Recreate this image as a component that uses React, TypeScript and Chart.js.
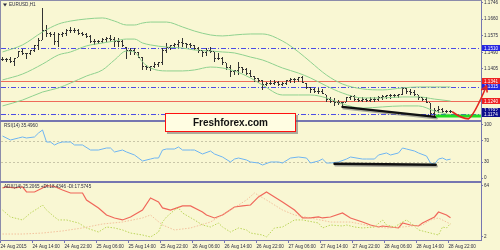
import React, { useEffect, useRef } from 'react';
import { Chart, registerables } from 'chart.js';

Chart.register(...registerables);

const BG = '#F9F7D3';
const AXIS = '#7676B0';
const TEXT = '#2B2B40';
const FONT = "'Liberation Sans', Arial, sans-serif";
const FS = 4.6;

// ---- H1 OHLC bars (EURUSD) ----
const highs = [
  1.1466, 1.1461, 1.1466, 1.1461, 1.1497, 1.1507, 1.1487, 1.1502, 1.1528, 1.1563,
  1.1717, 1.1630, 1.1594, 1.1594, 1.1589, 1.1594, 1.1610, 1.1620, 1.1615, 1.1610,
  1.1594, 1.1589, 1.1579, 1.1558, 1.1553, 1.1563, 1.1569, 1.1579, 1.1569, 1.1563,
  1.1553, 1.1517, 1.1512, 1.1512, 1.1492, 1.1466, 1.1425, 1.1420, 1.1441, 1.1441,
  1.1512, 1.1538, 1.1528, 1.1538, 1.1553, 1.1563, 1.1538, 1.1538, 1.1528, 1.1517,
  1.1502, 1.1512, 1.1517, 1.1492, 1.1487, 1.1466, 1.1436, 1.1425, 1.1400, 1.1441,
  1.1415, 1.1410, 1.1400, 1.1369, 1.1359, 1.1349, 1.1338, 1.1349, 1.1349, 1.1344,
  1.1338, 1.1349, 1.1359, 1.1359, 1.1364, 1.1369, 1.1333, 1.1313, 1.1308, 1.1308,
  1.1303, 1.1272, 1.1262, 1.1257, 1.1246, 1.1236, 1.1262, 1.1272, 1.1272, 1.1262,
  1.1262, 1.1257, 1.1262, 1.1262, 1.1267, 1.1272, 1.1272, 1.1277, 1.1277, 1.1277,
  1.1313, 1.1308, 1.1303, 1.1298, 1.1272, 1.1262, 1.1262, 1.1231, 1.1205, 1.1216,
  1.1205, 1.1195, 1.1195,
];
const lows = [
  1.1446, 1.1441, 1.1436, 1.1420, 1.1466, 1.1477, 1.1456, 1.1477, 1.1492, 1.1502,
  1.1553, 1.1569, 1.1569, 1.1528, 1.1517, 1.1569, 1.1574, 1.1589, 1.1589, 1.1579,
  1.1574, 1.1563, 1.1538, 1.1528, 1.1533, 1.1538, 1.1543, 1.1543, 1.1517, 1.1517,
  1.1517, 1.1456, 1.1477, 1.1477, 1.1461, 1.1400, 1.1400, 1.1395, 1.1410, 1.1415,
  1.1425, 1.1487, 1.1502, 1.1512, 1.1512, 1.1517, 1.1512, 1.1512, 1.1502, 1.1487,
  1.1466, 1.1471, 1.1487, 1.1441, 1.1451, 1.1425, 1.1400, 1.1364, 1.1374, 1.1374,
  1.1384, 1.1374, 1.1364, 1.1338, 1.1333, 1.1298, 1.1318, 1.1323, 1.1323, 1.1318,
  1.1318, 1.1323, 1.1333, 1.1333, 1.1338, 1.1333, 1.1303, 1.1282, 1.1282, 1.1277,
  1.1277, 1.1236, 1.1231, 1.1216, 1.1221, 1.1205, 1.1236, 1.1246, 1.1241, 1.1236,
  1.1236, 1.1236, 1.1236, 1.1236, 1.1241, 1.1246, 1.1251, 1.1251, 1.1257, 1.1257,
  1.1272, 1.1277, 1.1272, 1.1267, 1.1246, 1.1241, 1.1231, 1.1159, 1.1159, 1.1180,
  1.1180, 1.1180, 1.1180,
];
const closes = [
  1.1451, 1.1451, 1.1441, 1.1461, 1.1492, 1.1482, 1.1482, 1.1497, 1.1523, 1.1553,
  1.1604, 1.1584, 1.1579, 1.1543, 1.1579, 1.1589, 1.1604, 1.1604, 1.1604, 1.1589,
  1.1579, 1.1569, 1.1548, 1.1543, 1.1548, 1.1558, 1.1563, 1.1558, 1.1548, 1.1543,
  1.1523, 1.1502, 1.1497, 1.1487, 1.1466, 1.1420, 1.1415, 1.1420, 1.1430, 1.1436,
  1.1502, 1.1517, 1.1523, 1.1528, 1.1538, 1.1533, 1.1528, 1.1523, 1.1512, 1.1497,
  1.1487, 1.1502, 1.1492, 1.1461, 1.1461, 1.1436, 1.1415, 1.1390, 1.1395, 1.1410,
  1.1400, 1.1384, 1.1369, 1.1354, 1.1344, 1.1328, 1.1333, 1.1333, 1.1338, 1.1328,
  1.1333, 1.1344, 1.1349, 1.1349, 1.1359, 1.1338, 1.1308, 1.1298, 1.1292, 1.1292,
  1.1282, 1.1251, 1.1241, 1.1236, 1.1231, 1.1236, 1.1257, 1.1262, 1.1251, 1.1246,
  1.1251, 1.1246, 1.1251, 1.1251, 1.1257, 1.1262, 1.1267, 1.1267, 1.1267, 1.1272,
  1.1303, 1.1292, 1.1287, 1.1272, 1.1257, 1.1251, 1.1231, 1.1175, 1.1195, 1.1200,
  1.1190, 1.1190, 1.1185,
];
const firstOpen = 1.1456;

// ---- Bollinger bands (read at key bars) ----
const bandIdx = [0, 5, 10, 14, 17, 21, 25, 28, 31, 33, 35, 37, 41, 45, 48, 52, 55, 58, 62, 65, 70, 74, 77, 81, 85, 90, 95, 100, 104, 108, 112];
const upperBand = [1.1492, 1.1528, 1.1594, 1.1635, 1.1650, 1.1661, 1.1666, 1.1650, 1.1630, 1.1630, 1.1640, 1.1645, 1.1645, 1.1620, 1.1599, 1.1579, 1.1574, 1.1579, 1.1584, 1.1584, 1.1548, 1.1492, 1.1441, 1.1374, 1.1328, 1.1303, 1.1298, 1.1308, 1.1313, 1.1313, 1.1313];
const middleBand = [1.1349, 1.1379, 1.1430, 1.1477, 1.1492, 1.1523, 1.1538, 1.1548, 1.1558, 1.1558, 1.1538, 1.1528, 1.1517, 1.1512, 1.1502, 1.1497, 1.1492, 1.1487, 1.1466, 1.1451, 1.1410, 1.1384, 1.1359, 1.1318, 1.1282, 1.1257, 1.1257, 1.1262, 1.1262, 1.1251, 1.1241];
const lowerBand = [1.1216, 1.1246, 1.1287, 1.1308, 1.1333, 1.1369, 1.1400, 1.1451, 1.1497, 1.1492, 1.1441, 1.1410, 1.1395, 1.1395, 1.1400, 1.1415, 1.1410, 1.1395, 1.1359, 1.1323, 1.1272, 1.1272, 1.1272, 1.1257, 1.1226, 1.1205, 1.1211, 1.1216, 1.1216, 1.1190, 1.1170];

// ---- price levels ----
const priceTicks = [1.1746, 1.1660, 1.1575, 1.1490, 1.1405];
const blueLevels = [1.1510, 1.1315, 1.1174];
const redLevels = [1.1341, 1.1240];
const boxLabels = ['1.1510', '1.1341', '1.1315', '1.1240', '1.1192', '1.1174'];
const boxPrices = [1.1510, 1.1341, 1.1315, 1.1240, 1.1192, 1.1174];
const boxColors = ['#2626E0', '#EE2222', '#2626E0', '#EE2222', '#0E0E8C', '#0E0E8C'];

// ---- drawings ----
const trendIdx = [85, 108.3];
const trendPrice = [1.1211, 1.1160];
const greenIdx = [108.3, 119.6];
const greenPrice = 1.1164;
const arrowIdx = [112.5, 116.5, 121];
const arrowPrice = [1.1185, 1.1150, 1.1318];

// ---- RSI(14) ----
const rsiIdx = [0, 2, 4, 5, 6, 8, 9, 10, 11, 12, 13, 14, 15, 17, 18, 20, 22, 24, 26, 27, 28, 30, 31, 33, 35, 37, 38, 39, 40, 41, 43, 44, 45, 47, 48, 50, 52, 53, 55, 57, 58, 59, 61, 62, 64, 65, 67, 69, 70, 72, 74, 76, 77, 79, 80, 81, 82, 84, 86, 87, 90, 91, 93, 94, 96, 97, 99, 100, 101, 103, 104, 106, 107, 108, 109, 110, 111, 112];
const rsiVal = [79.2, 71.7, 75.5, 77.4, 75.5, 77.4, 84.9, 90.6, 67.9, 67.9, 62.3, 66.0, 67.9, 67.9, 62.3, 62.3, 52.8, 52.8, 56.6, 56.6, 49.1, 52.8, 49.1, 43.4, 32.1, 35.8, 37.7, 37.7, 52.8, 54.7, 54.7, 58.5, 52.8, 52.8, 52.8, 45.3, 50.9, 45.3, 39.6, 30.2, 35.8, 37.7, 34.0, 30.2, 28.3, 24.5, 30.2, 30.2, 28.3, 37.7, 39.6, 37.7, 28.3, 32.1, 35.8, 28.3, 28.3, 30.2, 35.8, 39.6, 35.8, 35.8, 35.8, 43.4, 47.2, 43.4, 47.2, 56.6, 54.7, 50.9, 47.2, 41.5, 28.3, 26.4, 35.8, 37.7, 34.0, 35.5];
const rsiTicks = [100, 70, 30, 0];
const rsiLevels = [70, 30];
const rsiTrendIdx = [83, 108.3];
const rsiTrendVal = [27, 25];

// ---- ADX(14) ----
const adxIdx = [0, 1, 3, 5, 6, 8, 10, 11, 13, 15, 17, 20, 21, 24, 26, 28, 30, 32, 35, 37, 39, 40, 42, 45, 47, 50, 51, 53, 55, 58, 60, 62, 64, 66, 68, 70, 73, 75, 77, 79, 80, 82, 85, 87, 90, 92, 94, 95, 97, 99, 100, 102, 104, 105, 108, 109, 111, 112];
const adxVal = [61.3, 62.5, 61.3, 62.5, 56.4, 56.4, 61.3, 64.0, 63.0, 58.8, 55.2, 55.2, 46.7, 37.1, 28.6, 25.0, 22.6, 26.2, 34.6, 49.2, 44.3, 37.1, 34.6, 39.5, 39.5, 32.2, 28.6, 25.0, 28.6, 38.3, 39.5, 40.7, 50.4, 56.4, 50.4, 44.3, 34.6, 25.0, 25.0, 26.2, 25.0, 26.2, 31.0, 25.0, 20.1, 16.5, 14.1, 15.3, 14.1, 12.9, 18.9, 16.5, 15.3, 18.9, 26.2, 32.2, 28.6, 25.2];
const pdiIdx = [0, 2, 5, 7, 9, 10, 11, 13, 14, 16, 19, 21, 24, 26, 28, 30, 32, 35, 37, 39, 40, 41, 43, 44, 45, 48, 50, 52, 54, 55, 57, 59, 61, 62, 65, 66, 68, 70, 73, 75, 79, 80, 82, 85, 86, 88, 90, 93, 95, 96, 98, 100, 101, 103, 104, 107, 109, 110, 111, 112];
const pdiVal = [34.6, 26.2, 22.6, 31.0, 37.1, 40.7, 34.6, 26.2, 22.6, 22.6, 18.9, 12.9, 8.0, 14.1, 12.9, 10.5, 6.8, 4.4, 2.0, 8.0, 20.1, 26.2, 34.6, 37.1, 31.0, 22.6, 16.5, 14.1, 18.9, 14.1, 8.0, 12.9, 10.5, 6.8, 4.4, 2.0, 12.9, 14.1, 22.6, 22.6, 18.9, 12.9, 16.5, 15.3, 16.5, 14.1, 12.9, 14.1, 22.6, 16.5, 14.1, 20.1, 22.6, 15.3, 10.5, 6.8, 4.4, 14.1, 12.9, 18.4];
const mdiIdx = [0, 5, 10, 15, 20, 25, 30, 35, 37, 40, 43, 47, 52, 57, 61, 63, 66, 70, 73, 77, 82, 87, 92, 96, 100, 105, 107, 109, 112];
const mdiVal = [5.6, 5.6, 6.8, 9.3, 12.9, 17.7, 20.1, 25.0, 28.6, 16.5, 10.5, 12.9, 20.1, 34.6, 46.7, 55.2, 46.7, 34.6, 28.6, 25.0, 20.1, 20.1, 15.3, 12.9, 14.1, 16.5, 22.6, 25.0, 17.6];
const adxTicks = [64, 2];

// ---- time axis ----
const xLabels = ['24 Aug 2015', '24 Aug 14:00', '24 Aug 22:00', '25 Aug 06:00', '25 Aug 14:00', '25 Aug 22:00', '26 Aug 06:00', '26 Aug 14:00', '26 Aug 22:00', '27 Aug 06:00', '27 Aug 14:00', '27 Aug 22:00', '28 Aug 06:00', '28 Aug 14:00', '28 Aug 22:00'];
const XMIN = -0.375;
const XMAX = 119.625;

const pts = (idx: number[], vals: number[]) => idx.map((x, k) => ({ x, y: vals[k] }));

function yAxis(min: number, max: number, ticks: number[], fmt: (v: number) => string) {
  return {
    type: 'linear', position: 'right', min, max,
    afterBuildTicks: (s: any) => { s.ticks = ticks.map((v) => ({ value: v })); },
    afterFit: (s: any) => { s.width = 19; s.paddingTop = 0; s.paddingBottom = 0; },
    ticks: { callback: (v: any) => fmt(Number(v)), font: { family: FONT, size: FS }, color: TEXT, padding: 1, autoSkip: false },
    grid: { drawOnChartArea: false, tickLength: 2, color: AXIS, lineWidth: 1 },
    border: { color: AXIS, width: 1 },
  };
}

const hiddenX = { type: 'linear', min: XMIN, max: XMAX, display: false, offset: false, grid: { offset: false } };

const baseOpts = (padBottom: number) => ({
  responsive: false,
  maintainAspectRatio: false,
  animation: false,
  events: [],
  layout: { padding: { left: 1, right: 0, top: 1, bottom: padBottom } },
  plugins: { legend: { display: false }, tooltip: { enabled: false } },
});

function seg(ctx: CanvasRenderingContext2D, x1: number, y1: number, x2: number, y2: number) {
  ctx.beginPath(); ctx.moveTo(x1, y1); ctx.lineTo(x2, y2); ctx.stroke();
}

export default function App() {
  const mainRef = useRef<HTMLCanvasElement>(null);
  const rsiRef = useRef<HTMLCanvasElement>(null);
  const adxRef = useRef<HTMLCanvasElement>(null);

  useEffect(() => {
    const charts: Chart[] = [];
    const opens = closes.map((c, i) => {
      const o = i === 0 ? firstOpen : closes[i - 1];
      return Math.min(highs[i], Math.max(lows[i], o));
    });

    const mainDecor = {
      id: 'mainDecor',
      beforeDatasetsDraw(chart: any) {
        const { ctx, chartArea: a, scales } = chart;
        const y = scales.y;
        ctx.save();
        ctx.lineWidth = 1;
        ctx.strokeStyle = '#EF6A5A';
        redLevels.forEach((p) => { const py = Math.round(y.getPixelForValue(p)) + 0.5; seg(ctx, a.left, py, a.right, py); });
        ctx.strokeStyle = '#4B4BE6';
        ctx.setLineDash([5, 2, 1, 2]);
        blueLevels.forEach((p) => { const py = Math.round(y.getPixelForValue(p)) + 0.5; seg(ctx, a.left, py, a.right, py); });
        ctx.restore();
      },
      afterDatasetsDraw(chart: any) {
        const { ctx, scales } = chart;
        const x = scales.x, y = scales.y;
        ctx.save();
        ctx.fillStyle = '#333333';
        closes.forEach((c, i) => {
          const px = Math.floor(x.getPixelForValue(i));
          ctx.fillRect(px - 1, Math.round(y.getPixelForValue(opens[i]) - 0.5), 1, 1);
          ctx.fillRect(px + 1, Math.round(y.getPixelForValue(c) - 0.5), 1, 1);
        });
        ctx.restore();
      },
      afterDraw(chart: any) {
        const { ctx, chartArea: a, scales } = chart;
        const x = scales.x, y = scales.y;
        ctx.save();
        // trend line with shadow
        const tx1 = x.getPixelForValue(trendIdx[0]), ty1 = y.getPixelForValue(trendPrice[0]);
        const tx2 = x.getPixelForValue(trendIdx[1]), ty2 = y.getPixelForValue(trendPrice[1]);
        ctx.lineCap = 'round';
        ctx.lineWidth = 2.4;
        ctx.strokeStyle = 'rgba(120,120,120,0.6)';
        seg(ctx, tx1 + 1, ty1 + 1.5, tx2 + 1, ty2 + 1.5);
        ctx.strokeStyle = '#111111';
        seg(ctx, tx1, ty1, tx2, ty2);
        // green support
        ctx.lineCap = 'butt';
        ctx.lineWidth = 3;
        ctx.strokeStyle = '#22DD22';
        const gy = y.getPixelForValue(greenPrice);
        seg(ctx, x.getPixelForValue(greenIdx[0]), gy, x.getPixelForValue(greenIdx[1]), gy);
        // price boxes
        ctx.font = `${FS}px ${FONT}`;
        ctx.textBaseline = 'middle';
        ctx.textAlign = 'left';
        boxPrices.forEach((p, k) => {
          const cy = y.getPixelForValue(p);
          ctx.fillStyle = boxColors[k];
          ctx.fillRect(a.right + 1, Math.round(cy - 3), 18, 6);
          ctx.fillStyle = '#FFFFFF';
          ctx.fillText(boxLabels[k], a.right + 3, cy + 0.2);
        });
        // red arrow
        const ax0 = x.getPixelForValue(arrowIdx[0]), ay0 = y.getPixelForValue(arrowPrice[0]);
        const ax1 = x.getPixelForValue(arrowIdx[1]), ay1 = y.getPixelForValue(arrowPrice[1]);
        const ax2 = x.getPixelForValue(arrowIdx[2]), ay2 = y.getPixelForValue(arrowPrice[2]);
        const cx = ax1 + (ax2 - ax1) * 0.3, cy2 = ay1 - 3;
        ctx.strokeStyle = '#E3261E';
        ctx.lineWidth = 1.6;
        ctx.lineCap = 'round';
        ctx.beginPath();
        ctx.moveTo(ax0, ay0);
        ctx.quadraticCurveTo(ax0 + (ax1 - ax0) * 0.6, ay1, ax1, ay1);
        ctx.quadraticCurveTo(cx, cy2, ax2, ay2);
        ctx.stroke();
        const ang = Math.atan2(ay2 - cy2, ax2 - cx);
        const hl = 6;
        seg(ctx, ax2, ay2, ax2 - hl * Math.cos(ang - 0.5), ay2 - hl * Math.sin(ang - 0.5));
        seg(ctx, ax2, ay2, ax2 - hl * Math.cos(ang + 0.5), ay2 - hl * Math.sin(ang + 0.5));
        // title
        ctx.fillStyle = TEXT;
        ctx.beginPath(); ctx.moveTo(3, 3.5); ctx.lineTo(7, 3.5); ctx.lineTo(5, 6.5); ctx.closePath(); ctx.fill();
        ctx.font = `${FS}px ${FONT}`;
        ctx.textBaseline = 'middle';
        ctx.fillText('EURUSD,H1', 9, 5);
        ctx.restore();
      },
    };

    const rsiDecor = {
      id: 'rsiDecor',
      beforeDatasetsDraw(chart: any) {
        const { ctx, chartArea: a, scales } = chart;
        ctx.save();
        ctx.strokeStyle = '#C9C6A8';
        ctx.lineWidth = 1;
        ctx.setLineDash([2, 2]);
        rsiLevels.forEach((v) => { const py = Math.round(scales.y.getPixelForValue(v)) + 0.5; seg(ctx, a.left, py, a.right, py); });
        ctx.restore();
      },
      afterDraw(chart: any) {
        const { ctx, scales } = chart;
        const x = scales.x, y = scales.y;
        ctx.save();
        const x1 = x.getPixelForValue(rsiTrendIdx[0]), y1 = y.getPixelForValue(rsiTrendVal[0]);
        const x2 = x.getPixelForValue(rsiTrendIdx[1]), y2 = y.getPixelForValue(rsiTrendVal[1]);
        ctx.lineWidth = 2.4;
        ctx.lineCap = 'round';
        ctx.strokeStyle = 'rgba(120,120,120,0.6)';
        seg(ctx, x1 + 1, y1 + 1.5, x2 + 1, y2 + 1.5);
        ctx.strokeStyle = '#111111';
        seg(ctx, x1, y1, x2, y2);
        ctx.fillStyle = TEXT;
        ctx.font = `${FS}px ${FONT}`;
        ctx.textBaseline = 'middle';
        ctx.fillText('RSI(14) 35.4960', 4, 5);
        ctx.restore();
      },
    };

    const adxDecor = {
      id: 'adxDecor',
      afterDraw(chart: any) {
        const { ctx } = chart;
        ctx.save();
        ctx.fillStyle = TEXT;
        ctx.font = `${FS}px ${FONT}`;
        ctx.textBaseline = 'middle';
        ctx.fillText('ADX(14) 25.2065 +DI:18.4346 -DI:17.5745', 4, 4.5);
        ctx.restore();
      },
    };

    const band = (data: number[]) => ({
      type: 'line', data: pts(bandIdx, data), borderColor: '#8FD18F', borderWidth: 1,
      pointRadius: 0, cubicInterpolationMode: 'monotone', fill: false,
    });

    if (mainRef.current) {
      charts.push(new Chart(mainRef.current, {
        type: 'bar',
        data: {
          datasets: [
            band(upperBand) as any, band(middleBand) as any, band(lowerBand) as any,
            {
              type: 'bar',
              data: highs.map((h, i) => ({ x: i, y: [lows[i], h] })),
              backgroundColor: '#333333', borderWidth: 0, barThickness: 1,
              inflateAmount: 0, grouped: false,
            } as any,
          ],
        },
        options: {
          ...baseOpts(1),
          scales: {
            x: hiddenX,
            y: yAxis(1.1144, 1.17527, priceTicks, (v) => v.toFixed(4)),
          },
        } as any,
        plugins: [mainDecor],
      }));
    }

    if (rsiRef.current) {
      charts.push(new Chart(rsiRef.current, {
        type: 'line',
        data: {
          datasets: [{
            data: pts(rsiIdx, rsiVal), borderColor: '#6FB5F2', borderWidth: 1,
            pointRadius: 0, tension: 0, fill: false,
          } as any],
        },
        options: {
          ...baseOpts(1),
          scales: {
            x: hiddenX,
            y: yAxis(-5.66, 105.66, rsiTicks, (v) => String(Math.round(v))),
          },
        } as any,
        plugins: [rsiDecor],
      }));
    }

    if (adxRef.current) {
      charts.push(new Chart(adxRef.current, {
        type: 'line',
        data: {
          datasets: [
            { data: pts(mdiIdx, mdiVal), borderColor: 'rgba(240,176,140,0.75)', borderWidth: 1, borderDash: [1.5, 1.5], pointRadius: 0, tension: 0, fill: false } as any,
            { data: pts(pdiIdx, pdiVal), borderColor: '#BCD55C', borderWidth: 1, borderDash: [1.5, 1.5], pointRadius: 0, tension: 0, fill: false } as any,
            { data: pts(adxIdx, adxVal), borderColor: '#F0675A', borderWidth: 1.2, pointRadius: 0, tension: 0, fill: false } as any,
          ],
        },
        options: {
          ...baseOpts(0),
          scales: {
            x: {
              type: 'linear', min: XMIN, max: XMAX, position: 'bottom', offset: false,
              afterBuildTicks: (s: any) => { s.ticks = xLabels.map((_, k) => ({ value: 8 * k - 0.5 })); },
              afterFit: (s: any) => { s.height = 10; s.paddingLeft = 0; s.paddingRight = 0; },
              ticks: {
                callback: (_v: any, i: number) => xLabels[i], align: 'start', autoSkip: false,
                maxRotation: 0, minRotation: 0, padding: 1, font: { family: FONT, size: FS }, color: TEXT,
              },
              grid: { drawOnChartArea: false, tickLength: 3, color: AXIS, offset: false },
              border: { color: AXIS, width: 1 },
            },
            y: yAxis(-1.63, 67.26, adxTicks, (v) => String(Math.round(v))),
          },
        } as any,
        plugins: [adxDecor],
      }));
    }

    return () => { charts.forEach((c) => c.destroy()); };
  }, []);

  const abs = (top: number, h: number): React.CSSProperties => ({ position: 'absolute', left: 0, top, width: 500, height: h, display: 'block' });

  return (
    <div style={{ position: 'fixed', left: 0, top: 0, width: 500, height: 250, background: BG, overflow: 'hidden' }}>
      <canvas ref={mainRef} width={500} height={121} style={abs(0, 121)} />
      <canvas ref={rsiRef} width={500} height={61} style={abs(121, 61)} />
      <canvas ref={adxRef} width={500} height={68} style={abs(182, 68)} />
      <div style={{ position: 'absolute', left: 0, top: 0, width: 482, height: 1, background: '#8C8CAA' }} />
      <div style={{ position: 'absolute', left: 0, top: 0, width: 1, height: 241, background: '#8C8CAA' }} />
      <div style={{ position: 'absolute', left: 0, top: 120, width: 482, height: 2, background: AXIS }} />
      <div style={{ position: 'absolute', left: 0, top: 181, width: 482, height: 2, background: AXIS }} />
      <div style={{
        position: 'absolute', left: 165, top: 113, width: 129, height: 17,
        border: '1.5px solid #FF1010', background: '#FFFDE2',
        boxShadow: '2px 2px 0 rgba(110,110,110,0.55)', zIndex: 5,
        display: 'flex', alignItems: 'center', justifyContent: 'center',
        fontFamily: FONT, fontWeight: 'bold', fontSize: 10, color: '#111111',
      }}>Freshforex.com</div>
    </div>
  );
}
